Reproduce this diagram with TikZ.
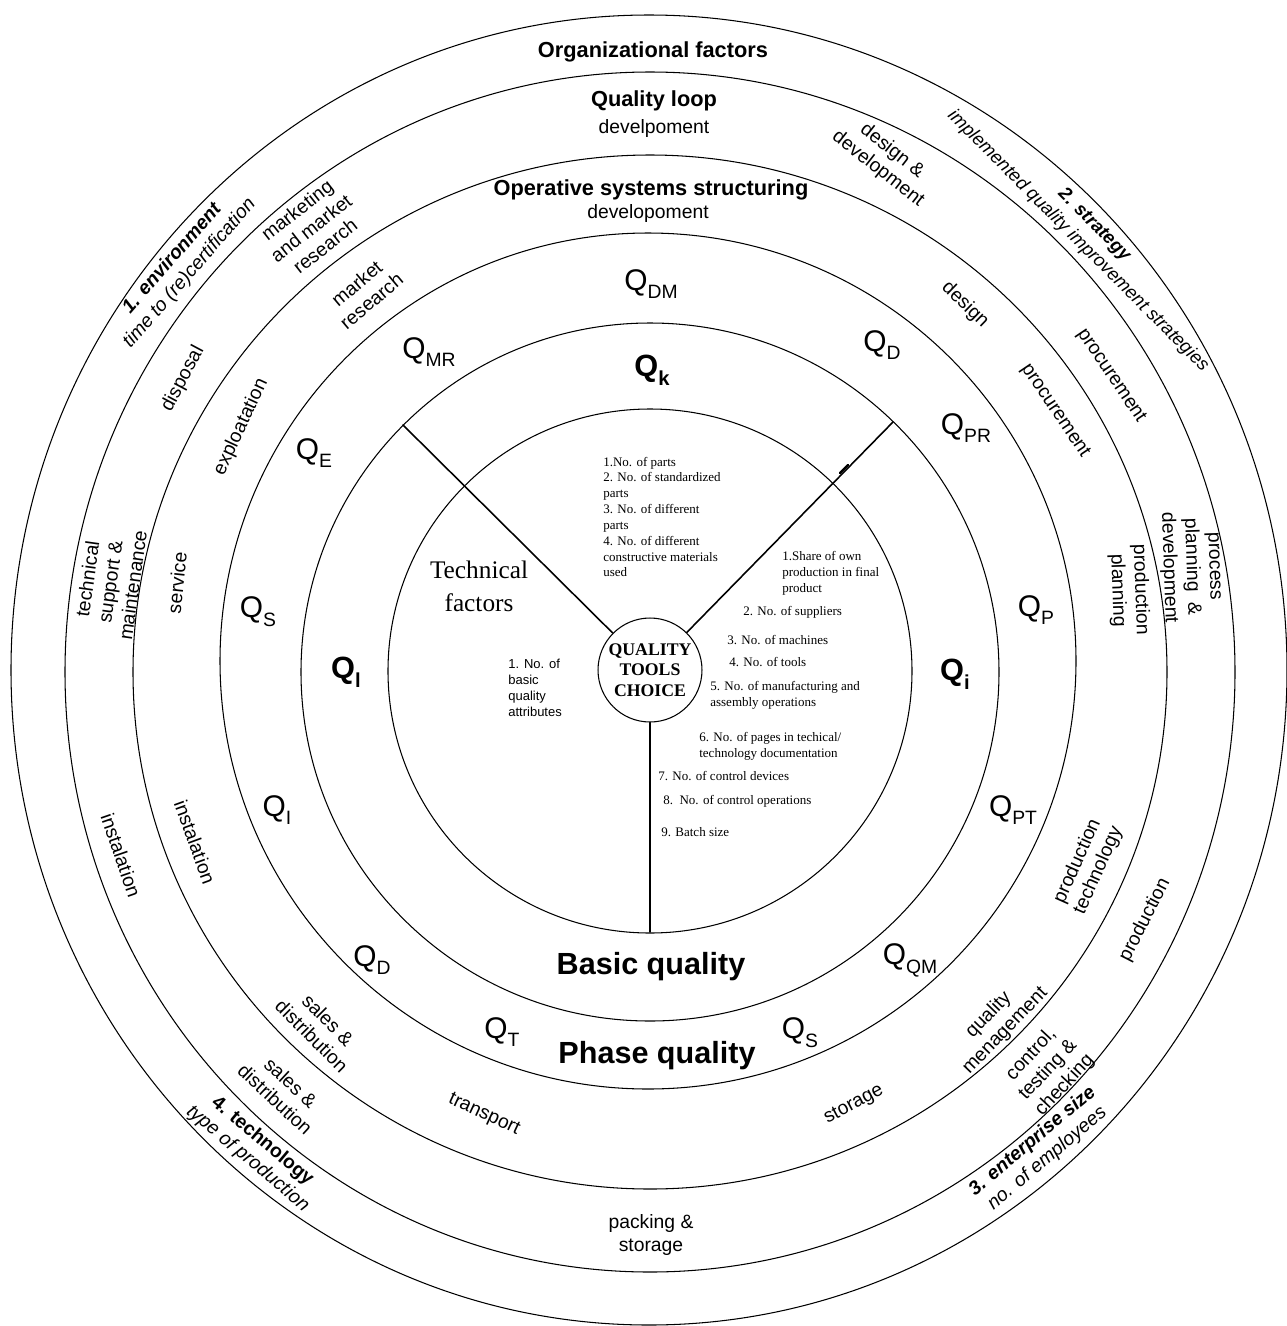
\documentclass[tikz,border=0pt]{standalone}
\usepackage{fontspec}
\setmainfont{Liberation Serif}
\setsansfont{Liberation Sans}

% Q with a lowered index
\newcommand{\qidx}[1]{Q\raisebox{-5pt}{\fontsize{11}{11}\selectfont #1}}
\newcommand{\qbidx}[1]{Q\raisebox{-5pt}{\fontsize{11.5}{11.5}\selectfont #1}}

\begin{document}
\begin{tikzpicture}[x=0.02cm,y=-0.02cm,line cap=round,line join=round,
    ring/.style={line width=0.6pt},
    spoke/.style={line width=0.9pt},
    head/.style={font=\sffamily\bfseries\fontsize{12.4}{14}\selectfont,inner sep=0pt},
    lbl/.style={font=\sffamily\fontsize{11}{13}\selectfont,align=center,inner sep=0pt},
    qlbl/.style={font=\sffamily\fontsize{17}{17}\selectfont,inner sep=0pt},
    qbold/.style={font=\sffamily\bfseries\fontsize{17.5}{17.5}\selectfont,inner sep=0pt},
    zone/.style={font=\sffamily\bfseries\fontsize{17.4}{20}\selectfont,inner sep=0pt},
    tfitem/.style={font=\rmfamily\fontsize{7.4}{9}\selectfont,align=left,inner sep=0pt,anchor=west},
]
        \useasboundingbox (0,0) rectangle (1287,1326);

        % Anillos concentricos
        \draw[ring] (649,670) ellipse [x radius=638, y radius=655];
        \draw[ring] (650,672) ellipse [x radius=585, y radius=600];
        \draw[ring] (650,672) circle [radius=517];
        \draw[ring] (648,661) circle [radius=428];
        \draw[ring] (650,672) circle [radius=349];
        \draw[ring] (650,671) circle [radius=262];

        % Centro
        \node[circle,draw,line width=0.6pt,minimum size=2.08cm,inner sep=0pt,align=center,
            font=\rmfamily\bfseries\fontsize{10.1}{11.7}\selectfont] (tools) at (650,670)
            {QUALITY\\TOOLS\\CHOICE};

        % Radios
        \coordinate (kl) at (403,425);
        \coordinate (kr) at (893,422);
        \coordinate (kb) at (650,932);
        \draw[spoke] (tools) -- (kl);
        \draw[spoke] (tools) -- (kr);
        \draw[spoke] (tools) -- (kb);
        \draw[line width=1.3pt] (840,473) -- (848,465);

        % Anillo exterior: factores organizativos
        \node[head] (org) at (653,52) {Organizational factors};
        \node[lbl,rotate=49] (env) at (181,266)
            {{\bfseries\itshape 1. environment}\\{\itshape time to (re)certification}};
        \node[lbl,rotate=-45,font=\sffamily\fontsize{10.5}{13}\selectfont] (strat) at (1086,233)
            {{\bfseries\itshape 2. strategy}\\{\itshape implemented quality improvement strategies}};
        \node[lbl,rotate=40] (size) at (1040,1150)
            {{\bfseries\itshape 3. enterprise size}\\{\itshape no. of employees}};
        \node[lbl,rotate=-40] (techn) at (255,1150)
            {{\bfseries 4. technology}\\{\itshape type of production}};

        % Quality loop
        \node[head] (loop) at (654,101) {Quality loop};
        \node[lbl] (loopdev) at (654,128) {develpoment};
        \node[lbl,rotate=-38] (dd) at (885,160) {design \&\\development};
        \node[lbl,rotate=-56] (proc1) at (1111,376) {procurement};
        \node[lbl,rotate=-88] (ppd) at (1190,567) {process\\planning \ \&\\development};
        \node[lbl,rotate=63] (prod1) at (1145,920) {production};
        \node[lbl,rotate=47] (ctc) at (1048,1070) {control,\\testing \&\\checking};
        \node[lbl] (pack) at (651,1235) {packing \&\\storage};
        \node[lbl,rotate=-43] (sd1) at (283,1091) {sales \&\\distribution};
        \node[lbl,rotate=-71] (inst1) at (121,855) {instalation};
        \node[lbl,rotate=82] (tsm) at (110,582) {technical\\support \&\\maintenance};
        \node[lbl,rotate=62] (disp) at (183,379) {disposal};
        \node[lbl,rotate=38] (mmr) at (311,228) {marketing\\and market\\research};

        % Operative systems structuring
        \node[head] (oss) at (651,190) {Operative systems structuring};
        \node[lbl] (ossdev) at (648,213) {developoment};
        \node[lbl,rotate=-44] (des) at (965,305) {design};
        \node[lbl,rotate=-56] (proc2) at (1055,411) {procurement};
        \node[lbl,rotate=-88] (pp) at (1129,590) {production\\planning};
        \node[lbl,rotate=66] (pt) at (1088,866) {production\\technology};
        \node[lbl,rotate=46] (qm) at (997,1023) {quality\\menagement};
        \node[lbl,rotate=28] (stor) at (854,1105) {storage};
        \node[lbl,rotate=-25] (trans) at (484,1115) {transport};
        \node[lbl,rotate=-45] (sd2) at (320,1028) {sales \&\\distribution};
        \node[lbl,rotate=-70] (inst2) at (195,842) {instalation};
        \node[lbl,rotate=84] (serv) at (177,583) {service};
        \node[lbl,rotate=65] (expl) at (241,427) {exploatation};
        \node[lbl,rotate=40] (mr) at (364,292) {market\\research};

        % Calidad de fase
        \node[qlbl] (qdm) at (651,284) {\qidx{DM}};
        \node[qlbl] (qd) at (882,345) {\qidx{D}};
        \node[qlbl] (qpr) at (966,428) {\qidx{PR}};
        \node[qlbl] (qp) at (1036,610) {\qidx{P}};
        \node[qlbl] (qpt) at (1013,810) {\qidx{PT}};
        \node[qlbl] (qqm) at (910,960) {\qidx{QM}};
        \node[qlbl] (qs) at (800,1033) {\qidx{S}};
        \node[qlbl] (qt) at (502,1032) {\qidx{T}};
        \node[qlbl] (qdl) at (372,960) {\qidx{D}};
        \node[qlbl] (qin) at (277,810) {\qidx{I}};
        \node[qlbl] (qsv) at (258,612) {\qidx{S}};
        \node[qlbl] (qe) at (314,453) {\qidx{E}};
        \node[qlbl] (qmr) at (429,352) {\qidx{MR}};
        \node[zone] (phase) at (657,1056) {Phase quality};

        % Calidad basica
        \node[qbold] (qk) at (652,370) {\qbidx{k}};
        \node[qbold] (ql) at (346,672) {\qbidx{l}};
        \node[qbold] (qi) at (955,674) {\qbidx{i}};
        \node[zone] (basic) at (651,967) {Basic quality};

        % Factores tecnicos
        \node[font=\rmfamily\fontsize{14.4}{18.7}\selectfont,align=center,inner sep=0pt] (tf) at (479,586)
            {Technical\\factors};
        \node[tfitem] (kparts) at (603,517) {1.No. of parts\\2. No. of standardized\\parts\\3. No. of different\\parts\\4. No. of different\\constructive materials\\used};
        \node[tfitem,font=\sffamily\fontsize{7.4}{9}\selectfont] (lattr) at (508,688) {1. No. of\\basic\\quality\\attributes};
        \node[tfitem] (i1) at (782,573) {1.Share of own\\production in final\\product};
        \node[tfitem] (i2) at (743,612) {2. No. of suppliers};
        \node[tfitem] (i3) at (727,640) {3. No. of machines};
        \node[tfitem] (i4) at (729,662) {4. No. of tools};
        \node[tfitem] (i5) at (710,695) {5. No. of manufacturing and\\assembly operations};
        \node[tfitem] (i6) at (699,746) {6. No. of pages in techical/\\technology documentation};
        \node[tfitem] (i7) at (658,776) {7. No. of control devices};
        \node[tfitem] (i8) at (663,801) {8.\ \ No. of control operations};
        \node[tfitem] (i9) at (661,832) {9. Batch size};
    \end{tikzpicture}
\end{document}
